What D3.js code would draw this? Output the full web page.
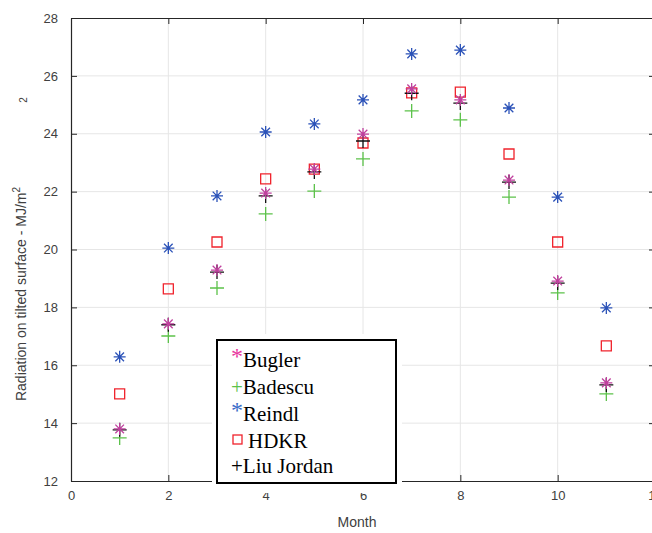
<!DOCTYPE html>
<html>
<head>
<meta charset="utf-8">
<script src="https://cdn.jsdelivr.net/npm/d3@7"></script>
<style>
  body { margin: 0; background: #fff; }
  svg { display: block; }
</style>
</head>
<body>
<div id="chart"></div>
<script>
// months and the five models (MJ/m2 on tilted surface)
var months = [1, 2, 3, 4, 5, 6, 7, 8, 9, 10, 11];
var bugler = [13.8, 17.43, 19.29, 21.95, 22.78, 23.99, 25.55, 25.17, 22.4, 18.91, 15.39];
var badescu = [13.49, 17.01, 18.67, 21.23, 22.02, 23.13, 24.79, 24.48, 21.81, 18.5, 15.01];
var reindl = [16.29, 20.05, 21.85, 24.06, 24.34, 25.17, 26.76, 26.89, 24.89, 21.81, 17.98];
var hdkr = [15.01, 18.64, 20.26, 22.44, 22.78, 23.68, 25.41, 25.44, 23.3, 20.26, 16.67];
var liuJordan = [13.77, 17.4, 19.22, 21.85, 22.68, 23.75, 25.4, 25.06, 22.33, 18.84, 15.32];

var xTicks = [0, 2, 4, 6, 8, 10, 12];
var yTicks = [12, 14, 16, 18, 20, 22, 24, 26, 28];

(function() {
  var W = 652, H = 533
  var margin = { left: 71, right: 655, top: 18, bottom: 481 }

  var svg = d3.select("#chart").append("svg")
    .attr("width", W).attr("height", H)

  var x = d3.scaleLinear().domain([0, 12]).range([margin.left, margin.right])
  var y = d3.scaleLinear().domain([12, 28]).range([margin.bottom, margin.top])

  // grid
  svg.append("g").selectAll("line").data(xTicks.slice(1, -1)).enter().append("line")
    .attr("x1", d => x(d)).attr("x2", d => x(d))
    .attr("y1", margin.top).attr("y2", margin.bottom)
    .attr("stroke", "#e6e6e6").attr("stroke-width", 1)
  svg.append("g").selectAll("line").data(yTicks.slice(1, -1)).enter().append("line")
    .attr("x1", margin.left).attr("x2", margin.right)
    .attr("y1", d => y(d)).attr("y2", d => y(d))
    .attr("stroke", "#e6e6e6").attr("stroke-width", 1)

  // axes, box style (x labels drawn later, above the legend)
  svg.append("g")
    .attr("transform", "translate(0," + margin.bottom + ")")
    .call(d3.axisBottom(x).tickValues(xTicks).tickSizeInner(-6).tickSizeOuter(0).tickFormat(""))
  svg.append("g")
    .attr("transform", "translate(0," + margin.top + ")")
    .call(d3.axisTop(x).tickValues(xTicks).tickSizeInner(-6).tickSizeOuter(0).tickFormat(""))
  svg.append("g")
    .attr("transform", "translate(" + margin.left + ",0)")
    .call(d3.axisLeft(y).tickValues(yTicks).tickSizeInner(-6).tickSizeOuter(0).tickPadding(13))
  svg.append("g")
    .attr("transform", "translate(" + margin.right + ",0)")
    .call(d3.axisRight(y).tickValues(yTicks).tickSizeInner(-6).tickSizeOuter(0).tickFormat(""))

  svg.selectAll(".domain").attr("stroke", "#262626").attr("stroke-width", 1.2)
  svg.selectAll(".tick line").attr("stroke", "#262626")

  // axis titles
  svg.append("text")
    .attr("x", 357).attr("y", 527)
    .attr("text-anchor", "middle")
    .attr("font-family", "Liberation Sans, Arial, sans-serif")
    .attr("font-size", 14).attr("fill", "#404040")
    .text("Month")

  var yl = svg.append("text")
    .attr("transform", "translate(26,294) rotate(-90)")
    .attr("text-anchor", "middle")
    .attr("font-family", "Liberation Sans, Arial, sans-serif")
    .attr("font-size", 14).attr("fill", "#404040")
  yl.append("tspan").text("Radiation on tilted surface - MJ/m")
  yl.append("tspan").attr("dy", -6).attr("font-size", 10).text("2")

  svg.append("text")
    .attr("transform", "translate(27,100) rotate(-90)")
    .attr("text-anchor", "middle")
    .attr("font-family", "Liberation Sans, Arial, sans-serif")
    .attr("font-size", 10).attr("fill", "#404040")
    .text("2")

  // marker shapes
  function star(s) {
    var d = s * 0.72
    return "M" + (-s) + ",0L" + s + ",0M0," + (-s) + "L0," + s +
      "M" + (-d) + "," + (-d) + "L" + d + "," + d +
      "M" + (-d) + "," + d + "L" + d + "," + (-d)
  }
  function plus(s) {
    return "M" + (-s) + ",0L" + s + ",0M0," + (-s) + "L0," + s
  }
  function square(s) {
    return "M" + (-s) + "," + (-s) + "H" + s + "V" + s + "H" + (-s) + "Z"
  }

  var series = [
    { name: "Badescu", values: badescu, color: "#5cc24a", shape: plus(7) },
    { name: "Reindl", values: reindl, color: "#2b52b8", shape: star(6) },
    { name: "HDKR", values: hdkr, color: "#f0232c", shape: square(5) },
    { name: "Liu Jordan", values: liuJordan, color: "#111111", shape: plus(7) },
    { name: "Bugler", values: bugler, color: "#c0409e", shape: star(6) }
  ]

  series.forEach(function(s) {
    svg.append("g").selectAll("path")
      .data(months)
      .enter().append("path")
      .attr("transform", function(m, i) {
        return "translate(" + x(m) + "," + y(s.values[i]) + ")"
      })
      .attr("d", s.shape)
      .attr("fill", "none")
      .attr("stroke", s.color)
      .attr("stroke-width", 1.3)
  })

  // x tick labels
  var gx = svg.append("g")
    .attr("transform", "translate(0," + margin.bottom + ")")
    .call(d3.axisBottom(x).tickValues(xTicks).tickSize(0).tickPadding(10))
  gx.select(".domain").remove()
  svg.selectAll(".tick text")
    .attr("font-family", "Liberation Sans, Arial, sans-serif")
    .attr("font-size", 13).attr("fill", "#404040")

  // legend (looks pasted on top, its white margin hides axis line and part of labels)
  var lg = svg.append("g")
  lg.append("rect").attr("x", 212).attr("y", 334).attr("width", 190).attr("height", 159)
    .attr("fill", "#fff")
  lg.append("rect").attr("x", 217).attr("y", 340).attr("width", 179).attr("height", 143)
    .attr("fill", "#fff").attr("stroke", "#000").attr("stroke-width", 2)

  var legendItems = [
    { sym: "*", label: "Bugler", color: "#e8379e", y: 367 },
    { sym: "+", label: "Badescu", color: "#5cc24a", y: 394 },
    { sym: "*", label: "Reindl", color: "#3a6cc8", y: 421 },
    { sym: "", label: "HDKR", color: "#f0232c", y: 448 },
    { sym: "+", label: "Liu Jordan", color: "#000", y: 473 }
  ]

  legendItems.forEach(function(d) {
    var t = lg.append("text")
      .attr("x", 231).attr("y", d.y)
      .attr("font-family", "Liberation Serif, Times New Roman, serif")
      .attr("font-size", 21).attr("fill", "#000")
    if (d.sym == "*") {
      t.append("tspan").attr("fill", d.color).attr("font-size", 24).attr("dy", -3).text("*")
      t.append("tspan").attr("dy", 3).text(d.label)
    } else if (d.sym == "+") {
      t.append("tspan").attr("fill", d.color).text("+")
      t.append("tspan").text(d.label)
    } else {
      lg.append("rect").attr("x", 233).attr("y", 435).attr("width", 9).attr("height", 9)
        .attr("fill", "none").attr("stroke", d.color).attr("stroke-width", 1.3)
      t.attr("x", 248).text(d.label)
    }
  })

  // labels 4 and 6 show through below the legend margin
  gx.raise()
  svg.append("rect").attr("x", 212).attr("y", 484).attr("width", 190).attr("height", 9)
    .attr("fill", "#fff")
})();
</script>
</body>
</html>
